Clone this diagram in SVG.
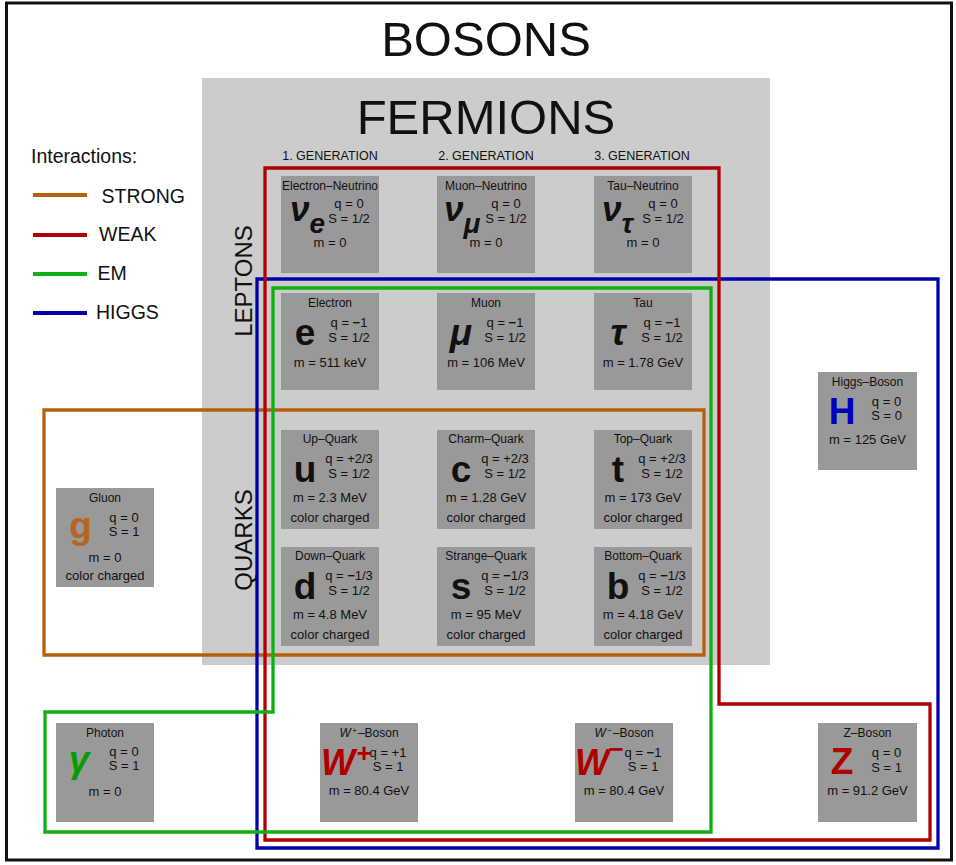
<svg xmlns="http://www.w3.org/2000/svg" width="956" height="865" viewBox="0 0 956 865">
  <style>
    text { font-family: "Liberation Sans", Arial, sans-serif; fill: #111; }
    .card { fill: #999999; }
    .ttl { font-size: 12px; text-anchor: middle; }
    .prop { font-size: 13px; text-anchor: middle; }
    .big { font-size: 37px; font-weight: bold; text-anchor: middle; }
    .nu { font-size: 35px; font-weight: bold; font-style: italic; }
    .nusub { font-size: 28px; }
    .w { font-size: 36px; font-weight: bold; font-style: italic; fill: #b00000; }
    .wsign { font-size: 26px; font-weight: bold; text-anchor: middle; fill: #b00000; }
    .gen { font-size: 12.5px; text-anchor: middle; }
    .leg { font-size: 19.5px; }
    .title { font-size: 49px; text-anchor: middle; }
    .side { font-size: 24px; text-anchor: middle; }
    .frame { fill: none; stroke-width: 3.3; }
    .strong { stroke: #b5600d; }
    .weak { stroke: #b00000; }
    .em { stroke: #10b010; }
    .higgs { stroke: #0000aa; }
  </style>

  <!-- page frame -->
  <rect x="0" y="0" width="956" height="865" fill="#ffffff"/>
  <rect id="page-border" x="6.5" y="3" width="945" height="857" fill="none" stroke="#111" stroke-width="3"/>
  <text class="title" x="486" y="56">BOSONS</text>

  <!-- fermion block -->
  <g id="fermions">
    <rect x="202" y="78" width="568" height="587" fill="#cccccc"/>
    <text class="title" x="486" y="134">FERMIONS</text>
    <text class="gen" x="330" y="160">1. GENERATION</text>
    <text class="gen" x="486" y="160">2. GENERATION</text>
    <text class="gen" x="642" y="160">3. GENERATION</text>
    <text class="side" transform="translate(252 281) rotate(-90)">LEPTONS</text>
    <text class="side" transform="translate(252 540) rotate(-90)">QUARKS</text>
  </g>

  <!-- legend -->
  <g id="legend">
    <text class="leg" x="31" y="163">Interactions:</text>
    <line x1="33" y1="195" x2="87" y2="195" stroke-width="4" class="strong"/>
    <line x1="33" y1="235" x2="87" y2="235" stroke-width="4" class="weak"/>
    <line x1="33" y1="274" x2="87" y2="274" stroke-width="4" class="em"/>
    <line x1="33" y1="313" x2="87" y2="313" stroke-width="4" class="higgs"/>
    <text class="leg" x="101.5" y="202.5">STRONG</text>
    <text class="leg" x="99" y="241">WEAK</text>
    <text class="leg" x="97.5" y="280">EM</text>
    <text class="leg" x="96" y="318.5">HIGGS</text>
  </g>

  <!-- leptons -->
  <g id="electron-neutrino" transform="translate(281 176)">
    <rect class="card" width="98" height="97"/>
    <text class="ttl" x="49" y="13.5">Electron–Neutrino</text>
    <text class="nu" x="9" y="45">ν<tspan class="nusub" dy="12">e</tspan></text>
    <text class="prop" x="68" y="32">q = 0</text>
    <text class="prop" x="68" y="47">S = 1/2</text>
    <text class="prop" x="49" y="71">m = 0</text>
  </g>
  <g id="muon-neutrino" transform="translate(437 176)">
    <rect class="card" width="98" height="97"/>
    <text class="ttl" x="49" y="13.5">Muon–Neutrino</text>
    <text class="nu" x="7" y="45">ν<tspan class="nusub" dy="12">μ</tspan></text>
    <text class="prop" x="69" y="32">q = 0</text>
    <text class="prop" x="69" y="47">S = 1/2</text>
    <text class="prop" x="49" y="71">m = 0</text>
  </g>
  <g id="tau-neutrino" transform="translate(594 176)">
    <rect class="card" width="98" height="97"/>
    <text class="ttl" x="49" y="13.5">Tau–Neutrino</text>
    <text class="nu" x="8" y="45">ν<tspan class="nusub" dy="12">τ</tspan></text>
    <text class="prop" x="69" y="32">q = 0</text>
    <text class="prop" x="69" y="47">S = 1/2</text>
    <text class="prop" x="49" y="71">m = 0</text>
  </g>
  <g id="electron" transform="translate(281 293)">
    <rect class="card" width="98" height="97"/>
    <text class="ttl" x="49" y="14">Electron</text>
    <text class="big" x="24" y="52">e</text>
    <text class="prop" x="68" y="34">q = <tspan font-weight="bold">−</tspan>1</text>
    <text class="prop" x="68" y="49">S = 1/2</text>
    <text class="prop" x="49" y="73.5">m = 511 keV</text>
  </g>
  <g id="muon" transform="translate(437 293)">
    <rect class="card" width="98" height="97"/>
    <text class="ttl" x="49" y="14">Muon</text>
    <text class="big" x="24" y="52" font-style="italic">μ</text>
    <text class="prop" x="68" y="34">q = <tspan font-weight="bold">−</tspan>1</text>
    <text class="prop" x="68" y="49">S = 1/2</text>
    <text class="prop" x="49" y="73.5">m = 106 MeV</text>
  </g>
  <g id="tau" transform="translate(594 293)">
    <rect class="card" width="98" height="97"/>
    <text class="ttl" x="49" y="14">Tau</text>
    <text class="big" x="24" y="52" font-style="italic">τ</text>
    <text class="prop" x="68" y="34">q = <tspan font-weight="bold">−</tspan>1</text>
    <text class="prop" x="68" y="49">S = 1/2</text>
    <text class="prop" x="49" y="73.5">m = 1.78 GeV</text>
  </g>

  <!-- quarks -->
  <g id="up-quark" transform="translate(281 430)">
    <rect class="card" width="98" height="99"/>
    <text class="ttl" x="49" y="13">Up–Quark</text>
    <text class="big" x="24" y="52">u</text>
    <text class="prop" x="68" y="32.5">q = +2/3</text>
    <text class="prop" x="68" y="48">S = 1/2</text>
    <text class="prop" x="49" y="72">m = 2.3 MeV</text>
    <text class="prop" x="49" y="92">color charged</text>
  </g>
  <g id="charm-quark" transform="translate(437 430)">
    <rect class="card" width="98" height="99"/>
    <text class="ttl" x="49" y="13">Charm–Quark</text>
    <text class="big" x="24" y="52">c</text>
    <text class="prop" x="68" y="32.5">q = +2/3</text>
    <text class="prop" x="68" y="48">S = 1/2</text>
    <text class="prop" x="49" y="72">m = 1.28 GeV</text>
    <text class="prop" x="49" y="92">color charged</text>
  </g>
  <g id="top-quark" transform="translate(594 430)">
    <rect class="card" width="98" height="99"/>
    <text class="ttl" x="49" y="13">Top–Quark</text>
    <text class="big" x="24" y="52">t</text>
    <text class="prop" x="68" y="32.5">q = +2/3</text>
    <text class="prop" x="68" y="48">S = 1/2</text>
    <text class="prop" x="49" y="72">m = 173 GeV</text>
    <text class="prop" x="49" y="92">color charged</text>
  </g>
  <g id="down-quark" transform="translate(281 547)">
    <rect class="card" width="98" height="99"/>
    <text class="ttl" x="49" y="13">Down–Quark</text>
    <text class="big" x="24" y="52">d</text>
    <text class="prop" x="68" y="32.5">q = <tspan font-weight="bold">−</tspan>1/3</text>
    <text class="prop" x="68" y="48">S = 1/2</text>
    <text class="prop" x="49" y="72">m = 4.8 MeV</text>
    <text class="prop" x="49" y="92">color charged</text>
  </g>
  <g id="strange-quark" transform="translate(437 547)">
    <rect class="card" width="98" height="99"/>
    <text class="ttl" x="49" y="13">Strange–Quark</text>
    <text class="big" x="24" y="52">s</text>
    <text class="prop" x="68" y="32.5">q = <tspan font-weight="bold">−</tspan>1/3</text>
    <text class="prop" x="68" y="48">S = 1/2</text>
    <text class="prop" x="49" y="72">m = 95 MeV</text>
    <text class="prop" x="49" y="92">color charged</text>
  </g>
  <g id="bottom-quark" transform="translate(594 547)">
    <rect class="card" width="98" height="99"/>
    <text class="ttl" x="49" y="13">Bottom–Quark</text>
    <text class="big" x="24" y="52">b</text>
    <text class="prop" x="68" y="32.5">q = <tspan font-weight="bold">−</tspan>1/3</text>
    <text class="prop" x="68" y="48">S = 1/2</text>
    <text class="prop" x="49" y="72">m = 4.18 GeV</text>
    <text class="prop" x="49" y="92">color charged</text>
  </g>

  <!-- gauge and scalar bosons -->
  <g id="gluon" transform="translate(56 488)">
    <rect class="card" width="98" height="99"/>
    <text class="ttl" x="49" y="13.5">Gluon</text>
    <text class="big" x="24.5" y="50" style="fill:#b5651d">g</text>
    <text class="prop" x="68" y="34">q = 0</text>
    <text class="prop" x="68" y="48">S = 1</text>
    <text class="prop" x="49" y="73.5">m = 0</text>
    <text class="prop" x="49" y="92">color charged</text>
  </g>
  <g id="photon" transform="translate(56 723)">
    <rect class="card" width="98" height="99"/>
    <text class="ttl" x="49" y="13.5">Photon</text>
    <text class="big" x="23" y="49" font-style="italic" style="fill:#00a000">γ</text>
    <text class="prop" x="68" y="33">q = 0</text>
    <text class="prop" x="68" y="47">S = 1</text>
    <text class="prop" x="49" y="73">m = 0</text>
  </g>
  <g id="w-plus" transform="translate(320 723)">
    <rect class="card" width="98" height="99"/>
    <text class="ttl" x="49" y="13.5"><tspan font-style="italic">W</tspan><tspan font-size="8" dx="1.5" dy="-4">+</tspan><tspan dx="1" dy="4">–Boson</tspan></text>
    <text class="w" x="1" y="52">W</text>
    <text class="wsign" x="44" y="38.5">+</text>
    <text class="prop" x="68" y="33.5">q = +1</text>
    <text class="prop" x="68" y="48">S = 1</text>
    <text class="prop" x="49" y="72">m = 80.4 GeV</text>
  </g>
  <g id="w-minus" transform="translate(575 723)">
    <rect class="card" width="98" height="99"/>
    <text class="ttl" x="49" y="13.5"><tspan font-style="italic">W</tspan><tspan font-size="8" dx="1.5" dy="-4">−</tspan><tspan dx="1" dy="4">–Boson</tspan></text>
    <text class="w" x="0" y="52">W</text>
    <text class="wsign" x="41" y="35">−</text>
    <text class="prop" x="68" y="33.5">q = <tspan font-weight="bold">−</tspan>1</text>
    <text class="prop" x="68" y="48">S = 1</text>
    <text class="prop" x="49" y="72">m = 80.4 GeV</text>
  </g>
  <g id="z-boson" transform="translate(818 723)">
    <rect class="card" width="99" height="99"/>
    <text class="ttl" x="49.5" y="13.5">Z–Boson</text>
    <text class="big" x="24" y="50.5" style="fill:#b00000">Z</text>
    <text class="prop" x="68.5" y="33.5">q = 0</text>
    <text class="prop" x="68.5" y="48.5">S = 1</text>
    <text class="prop" x="49.5" y="72">m = 91.2 GeV</text>
  </g>
  <g id="higgs-boson" transform="translate(818 372)">
    <rect class="card" width="99" height="98"/>
    <text class="ttl" x="49.5" y="13.5">Higgs–Boson</text>
    <text class="big" x="24" y="51.5" style="fill:#0000c0">H</text>
    <text class="prop" x="68.5" y="34">q = 0</text>
    <text class="prop" x="68.5" y="48">S = 0</text>
    <text class="prop" x="49.5" y="71.5">m = 125 GeV</text>
  </g>

  <!-- interaction boundaries -->
  <g id="connectors">
    <path class="frame strong" d="M44,410 H704 V655 H44 Z"/>
    <path class="frame higgs" d="M257,279 H938 V848 H257 Z"/>
    <path class="frame weak" d="M265,168 H719 V704 H930 V840 H265 Z"/>
    <path class="frame em" d="M273,288 H711 V832 H45 V712 H273 Z"/>
  </g>
</svg>
